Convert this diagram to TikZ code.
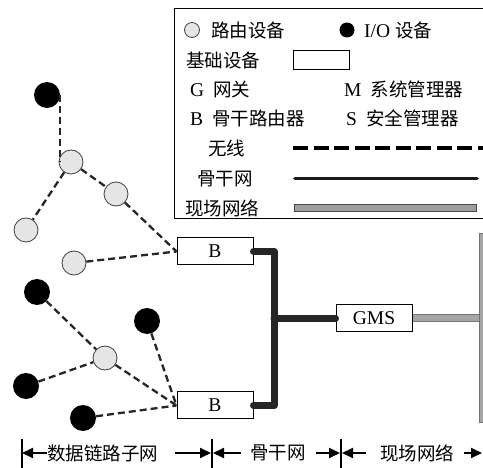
\documentclass[tikz,border=0pt]{standalone}
\usepackage{fontspec}
\setmainfont{Liberation Serif}
\newfontfamily\cjk{Noto Sans CJK SC}
\usetikzlibrary{arrows.meta,calc}
\begin{document}
\begin{tikzpicture}[x=1pt,y=-1pt,
 font=\fontsize{19.5}{21}\selectfont,
 router/.style={circle,draw=black!75,fill=black!10,line width=0.8pt,minimum size=24pt,inner sep=0pt},
 iodev/.style={circle,fill=black,minimum size=26pt,inner sep=0pt},
 basebox/.style={draw,line width=1pt,fill=white,minimum width=76pt,minimum height=27pt,inner sep=0pt},
 wl/.style={line width=2.3pt,dash pattern=on 7pt off 4pt,black!85},
 bb/.style={line width=7pt,black!85,line cap=round,line join=round},
 txt/.style={inner sep=0pt,anchor=west},
 ctxt/.style={inner sep=0pt,anchor=west,font=\fontsize{18.5}{20}\selectfont\cjk},
 dim/.style={line width=1.8pt,-{Triangle[length=11pt,width=10pt]}},
 bar/.style={line width=2.2pt}
]
\useasboundingbox (0,0) rectangle (483,468);
\clip (0,0) rectangle (483,468);
\fill[white] (0,0) rectangle (483,468);

% legend box
\draw[line width=1pt,fill=white] (174,8.5) rectangle (495,219);
\node[router,minimum size=15pt] (lr) at (192,30) {};
\node[ctxt] (lrt) at (211,30) {路由设备};
\node[iodev,minimum size=15pt] (ld) at (347,30) {};
\node[txt] (ldt) at (364,30) {I/O\hspace{5pt}{\cjk\fontsize{18.5}{20}\selectfont 设备}};
\node[ctxt] (lbt) at (186,60) {基础设备};
\node[draw,line width=0.6pt,minimum width=56pt,minimum height=19pt,inner sep=0pt] (lb) at (321,60) {};
\node[txt] (lg) at (190,89) {G\hspace{9pt}{\cjk\fontsize{18.5}{20}\selectfont 网关}};
\node[txt] (lm) at (344,89) {M\hspace{9pt}{\cjk\fontsize{18.5}{20}\selectfont 系统管理器}};
\node[txt] (lbb) at (190,118) {B\hspace{9pt}{\cjk\fontsize{18.5}{20}\selectfont 骨干路由器}};
\node[txt] (ls) at (346,118) {S\hspace{9pt}{\cjk\fontsize{18.5}{20}\selectfont 安全管理器}};
\node[ctxt] (lw) at (208,148) {无线};
\coordinate (lw1) at (293,148); \coordinate (lw2) at (500,148);
\draw[line width=3.5pt,dash pattern=on 15pt off 5.5pt] (lw1) -- (lw2);
\node[ctxt] (lk) at (197,179) {骨干网};
\coordinate (lk1) at (295,178.5); \coordinate (lk2) at (477,178.5);
\draw[line width=3.8pt,line cap=round,black!90] (lk1) -- (lk2);
\node[ctxt] (lf) at (185,208) {现场网络};
\draw[fill=gray!75,line width=0.8pt,draw=black!70] (294,204) rectangle (476,211);

% devices
\node[iodev] (d1) at (47,95) {};
\node[router] (r1) at (71,162) {};
\node[router] (r2) at (116,194) {};
\node[router] (r3) at (26,230) {};
\node[router] (r4) at (74,263) {};
\node[basebox] (b1) at (215,251.5) {B};
\node[iodev] (d2) at (37,292) {};
\node[iodev] (d3) at (147,321) {};
\node[router] (r5) at (105,358) {};
\node[iodev] (d4) at (26,386) {};
\node[iodev] (d5) at (83,418) {};
\node[basebox] (b2) at (215,405.5) {B};
\node[basebox] (gms) at (374,318.5) {GMS};

% wireless links
\draw[wl] (d1.east) -- (d1.east |- r1.west);
\draw[wl] (r1) -- (r3);
\draw[wl] (r1) -- (r2);
\draw[wl] (r2) -- (b1.west);
\draw[wl] (r4) -- (b1.west);
\draw[wl] (d2) -- (r5);
\draw[wl] (d4) -- (r5);
\draw[wl] (r5) -- (b2.west);
\draw[wl] (d3) -- (b2.west);
\draw[wl] (d5) -- (b2.west);

% backbone
\coordinate (j) at (274,318.5);
\draw[bb] (b1.east) -| (j) |- (b2.east);
\draw[bb] (j) -- (gms.west);

% field network
\coordinate (fb) at (479,318.5);
\draw[draw=black!55,line width=1pt,double=gray!70,double distance=6pt] (gms.east) -- (fb);
\draw[fill=gray!70,draw=black!55,line width=1pt] (479,234) rectangle (490,423);

% bottom dimension row
\coordinate (v1) at (22,453); \coordinate (v2) at (211,453); \coordinate (v2b) at (213,453);
\coordinate (v3) at (340,453); \coordinate (v3b) at (342,453); \coordinate (v4) at (482,453);
\draw[bar] (22,439) -- (22,470);
\draw[bar] (212,439) -- (212,470);
\draw[bar] (341,439) -- (341,470);
\node[ctxt] (t1) at (47,453) {数据链路子网};
\node[ctxt] (t2) at (250,453) {骨干网};
\node[ctxt] (t3) at (380,453) {现场网络};
\draw[dim] (t1.west) -- (v1);
\draw[dim] ($(t1.east)+(17,0)$) -- (v2);
\draw[dim] ($(t2.west)+(-9,0)$) -- (v2b);
\draw[dim] ($(t2.east)+(10,0)$) -- (v3);
\draw[dim] ($(t3.west)+(-14,0)$) -- (v3b);
\draw[dim] ($(t3.east)+(10,0)$) -- (v4);
\end{tikzpicture}
\end{document}
